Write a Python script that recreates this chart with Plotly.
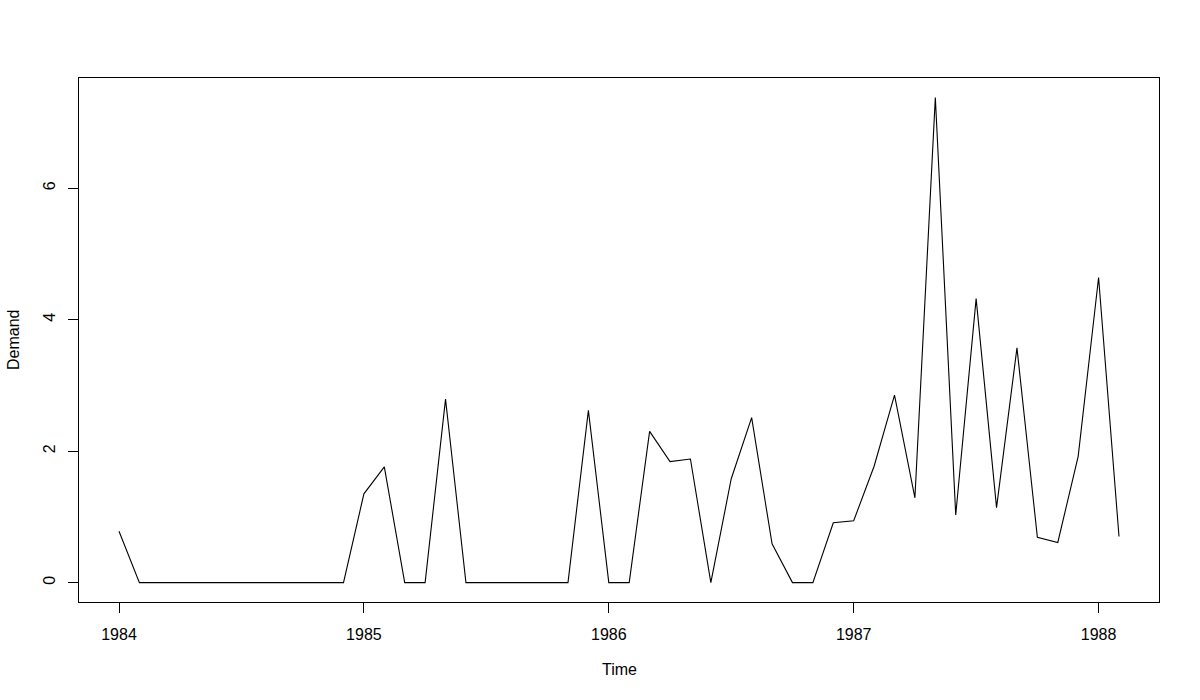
import plotly.graph_objects as go

# Monthly demand series, starting January 1984
start_year = 1984
freq = 12
demand = [
    0.78, 0, 0, 0, 0, 0, 0, 0, 0, 0, 0, 0,            # 1984
    1.35, 1.76, 0, 0, 2.79, 0, 0, 0, 0, 0, 0, 2.62,   # 1985
    0, 0, 2.30, 1.84, 1.88, 0, 1.58, 2.51, 0.59, 0, 0, 0.91,  # 1986
    0.94, 1.77, 2.85, 1.29, 7.38, 1.03, 4.32, 1.14, 3.57, 0.69, 0.61, 1.92,  # 1987
    4.64, 0.70,                                         # 1988
]
time = [start_year + i / freq for i in range(len(demand))]

x_ticks = [1984, 1985, 1986, 1987, 1988]
y_ticks = [0, 2, 4, 6]

# R-style 4% axis extension
xmin, xmax = min(time), max(time)
ymin, ymax = min(demand), max(demand)
xpad = (xmax - xmin) * 0.04
ypad = (ymax - ymin) * 0.04

font = dict(family="Liberation Sans, Arial, sans-serif", size=16, color="black")

fig = go.Figure()
fig.add_trace(go.Scatter(
    x=time, y=demand, mode="lines",
    line=dict(color="black", width=1.1),
    hoverinfo="x+y", showlegend=False,
))

fig.update_layout(
    width=1200, height=700,
    margin=dict(l=79, r=41, t=78, b=98),
    paper_bgcolor="white", plot_bgcolor="white",
    font=font,
    xaxis=dict(
        range=[xmin - xpad, xmax + xpad],
        tickvals=x_ticks, ticktext=[str(v) for v in x_ticks],
        ticks="outside", ticklen=10, tickwidth=1, tickcolor="black",
        showline=True, mirror=True, linecolor="black", linewidth=1,
        showgrid=False, zeroline=False,
        ticklabelstandoff=8,
        tickfont=font,
    ),
    yaxis=dict(
        range=[ymin - ypad, ymax + ypad],
        tickvals=y_ticks, ticktext=[str(v) for v in y_ticks],
        ticks="outside", ticklen=10, tickwidth=1, tickcolor="black",
        showline=True, mirror=True, linecolor="black", linewidth=1,
        showgrid=False, zeroline=False,
        tickangle=-90,
        ticklabelstandoff=7,
        tickfont=font,
    ),
    annotations=[
        dict(text="Time", xref="paper", yref="paper", x=0.5, y=0,
             yshift=-67, xanchor="center", yanchor="middle",
             showarrow=False, font=font),
        dict(text="Demand", xref="paper", yref="paper", x=0, y=0.5,
             xshift=-66, xanchor="center", yanchor="middle", textangle=-90,
             showarrow=False, font=font),
    ],
)

# remove the default 8px page margin so the figure fills the window exactly
fig.write_html(
    "out.html",
    config={"displayModeBar": False},
    post_script="document.body.style.margin='0';document.body.style.overflow='hidden';",
)
